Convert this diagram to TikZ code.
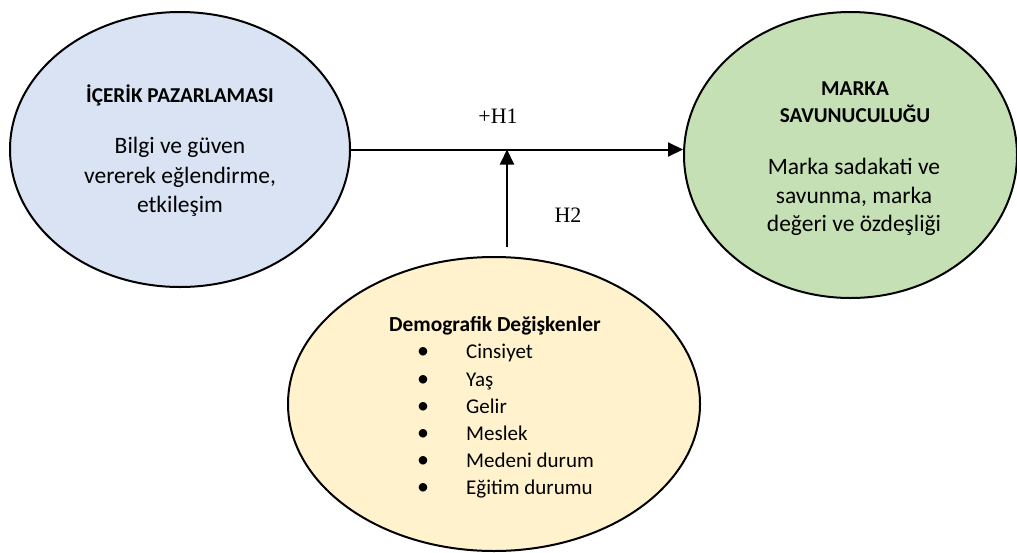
\documentclass[tikz,border=0pt]{standalone}
\usepackage{fontspec}
\setmainfont{Carlito}
\newfontfamily\hypfont{Liberation Serif}
\usetikzlibrary{arrows.meta,shapes.geometric}
\definecolor{blueFill}{HTML}{DAE3F3}
\definecolor{greenFill}{HTML}{C5E0B4}
\definecolor{goldFill}{HTML}{FFF2CC}
\begin{document}
\begin{tikzpicture}[x=1pt,y=-1pt,
  oval/.style={ellipse, draw=black, line width=2pt, inner sep=0pt},
  head/.style={font=\bfseries\fontsize{21.2}{24}\selectfont, anchor=base, inner sep=0pt},
  body/.style={font=\fontsize{23.5}{28}\selectfont, anchor=base, inner sep=0pt},
  listhead/.style={font=\bfseries\fontsize{21.4}{25}\selectfont, anchor=base, inner sep=0pt},
  listitem/.style={font=\fontsize{21}{25}\selectfont, anchor=base west, inner sep=0pt},
  bulletmark/.style={font=\fontsize{24}{25}\selectfont, anchor=base, inner sep=0pt},
  hyp/.style={font=\hypfont\fontsize{22}{26}\selectfont, anchor=base, inner sep=0pt},
  conn/.style={line width=2pt, -{Triangle[length=15pt,width=14pt]}}]
\useasboundingbox (0,0) rectangle (1017,552);

% the three constructs
\node[oval, fill=blueFill, minimum width=340pt, minimum height=275pt] (content) at (180,149.5) {};
\node[oval, fill=greenFill, minimum width=333pt, minimum height=286pt] (advocacy) at (850.5,155) {};
\node[oval, fill=goldFill, minimum width=412pt, minimum height=294pt] (demo) at (494,404) {};

% content marketing
\node[head] (contentTitle) at (180,102) {İÇERİK PAZARLAMASI};
\node[body] (contentL1) at (180,153) {Bilgi ve güven};
\node[body] (contentL2) at (180,183) {vererek eğlendirme,};
\node[body] (contentL3) at (180,212) {etkileşim};

% brand advocacy
\node[head] (advTitle1) at (855,95) {MARKA};
\node[head] (advTitle2) at (855,122) {SAVUNUCULUĞU};
\node[body] (advL1) at (854,174) {Marka sadakati ve};
\node[body] (advL2) at (854,203) {savunma, marka};
\node[body] (advL3) at (854,231) {değeri ve özdeşliği};

% demographic variables
\node[listhead] (demoTitle) at (495,331) {Demografik Değişkenler};
\foreach \t [count=\i] in {Cinsiyet, Yaş, Gelir, Meslek, Medeni durum, Eğitim durumu} {
  \node[bulletmark] (dot\i) at (423,{331.8+27.1*\i}) {•};
  \node[listitem] (item\i) at (466,{331.8+27.1*\i}) {\t};
}

% hypotheses
\draw[conn] (content.east) -- (content.east -| advocacy.west);
\coordinate (h2foot) at (507,247);
\draw[conn] (h2foot) -- (h2foot |- content.east);
\node[hyp] (h1) at (498,123) {+H1};
\node[hyp] (h2) at (568,222) {H2};
\end{tikzpicture}
\end{document}
